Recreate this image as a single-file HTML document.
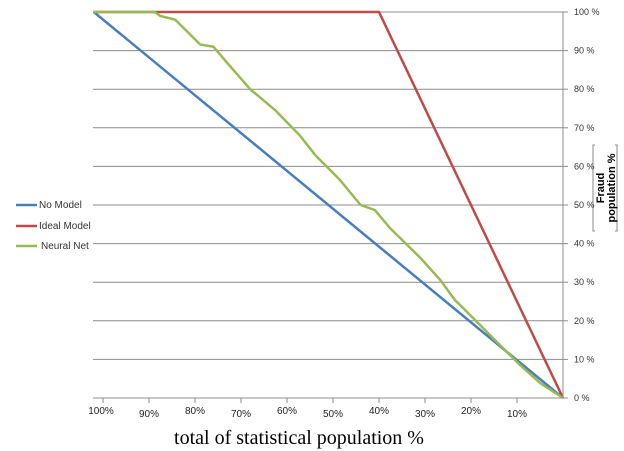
<!DOCTYPE html>
<html><head><meta charset="utf-8"><style>
body{margin:0;background:#fff;}
svg{display:block;font-family:"Liberation Sans",sans-serif;}
</style></head><body>
<svg id="chart" width="624" height="451">
<g id="grid"></g>
<g id="series"></g>
<g id="axes"></g>
<g font-size="10" fill="#333">
 <line x1="16" y1="205" x2="37" y2="205" stroke="#4a7ebb" stroke-width="2.5"/>
 <text x="39" y="208">No Model</text>
 <line x1="16" y1="226" x2="37" y2="226" stroke="#be4b48" stroke-width="2.5"/>
 <text x="39" y="229">Ideal Model</text>
 <line x1="16" y1="246" x2="37" y2="246" stroke="#98b954" stroke-width="2.5"/>
 <text x="41" y="249">Neural Net</text>
</g>
<text x="299" y="444" text-anchor="middle" font-family="Liberation Serif,serif" font-size="20" fill="#000">total of statistical population %</text>
<g>
 <path d="M595,145 h-2 v86 h2 M615,145 h2 v86 h-2" fill="none" stroke="#888" stroke-width="1"/>
 <text transform="translate(604,188) rotate(-90)" text-anchor="middle" font-size="11" font-weight="bold" fill="#000">Fraud</text>
 <text transform="translate(615,188) rotate(-90)" text-anchor="middle" font-size="11" font-weight="bold" fill="#000">population %</text>
</g>
</svg>
<script>
const yTicks=[0,10,20,30,40,50,60,70,80,90,100];
const xTicks=[100,90,80,70,60,50,40,30,20,10];
const noModelX=[102,0];
const noModelY=[100,0];
const idealX=[102,40,0];
const idealY=[100,100,0];
const nnX=[102,88.7,87.6,84.3,82,78.9,76,72.4,68,62.6,57.2,53.9,48.5,44,40.9,37.6,31,26.7,23.5,20.2,13.7,9.3,5,0];
const nnY=[100,100,99,98,95.3,91.6,91,86,80,74.6,68,63,56.5,50,48.7,44,36.3,30.6,25.4,21.5,13.7,8.5,3.9,0];
const NS="http://www.w3.org/2000/svg";
const x=v=>563-4.6*v, y=v=>398-3.86*v;
function mk(tag,attrs,parent){const e=document.createElementNS(NS,tag);for(const k in attrs)e.setAttribute(k,attrs[k]);parent.appendChild(e);return e;}
const grid=document.getElementById('grid'),axes=document.getElementById('axes'),ser=document.getElementById('series');
yTicks.forEach(t=>{
 if(t>0){const l=mk('line',{x1:93,x2:563,y1:y(t),y2:y(t),stroke:'#8c8c8c','stroke-width':1},grid);
 
 }
 const tk=mk('line',{x1:563,x2:568,y1:y(t),y2:y(t),stroke:'#8c8c8c'},axes);
 
 
 const tx=mk('text',{x:574,y:y(t)+3,'font-size':9,fill:'#333'},axes);tx.textContent=t+' %';
 
 
});
const ya=mk('line',{x1:563,x2:563,y1:y(100),y2:y(0),stroke:'#8c8c8c'},axes);


const xa=mk('line',{x1:93,x2:563,y1:y(0),y2:y(0),stroke:'#8c8c8c'},axes);


xTicks.forEach((t,i)=>{
 const tk=mk('line',{x1:x(t),x2:x(t),y1:398,y2:403,stroke:'#8c8c8c'},axes);
 
 
 const tx=mk('text',{x:x(t)+(t==100?-2:0),y:(i%2?417:414),'text-anchor':'middle','font-size':10,fill:'#222'},axes);tx.textContent=t+'%';
 
 
});
function line(xs,ys,col,name){
 const p=mk('polyline',{points:xs.map((v,i)=>x(v)+','+y(ys[i])).join(' '),fill:'none',stroke:col,'stroke-width':2.5,'stroke-linejoin':'round'},ser);
 
 
}
line(noModelX,noModelY,'#4a7ebb','no-model-line');
line(idealX,idealY,'#be4b48','ideal-model-line');
line(nnX,nnY,'#98b954','neural-net-line');
</script>
</body></html>
